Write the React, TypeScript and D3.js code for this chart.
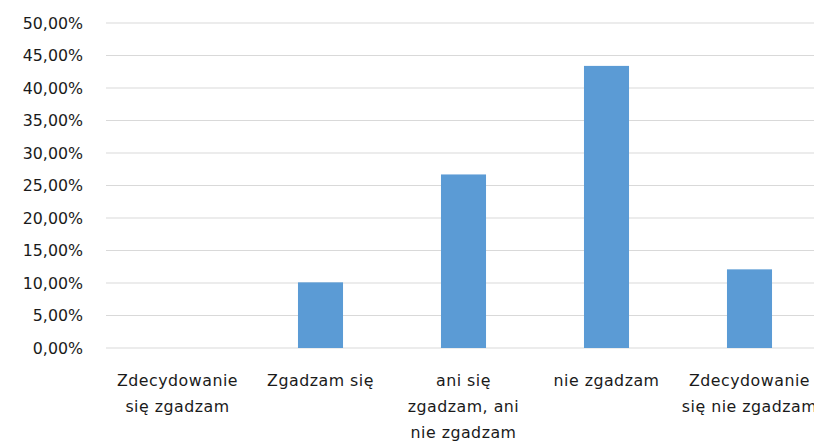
import React from "react";
import * as d3 from "d3";

const categories = [
  "Zdecydowanie się zgadzam",
  "Zgadzam się",
  "ani się zgadzam, ani nie zgadzam",
  "nie zgadzam",
  "Zdecydowanie się nie zgadzam",
];
const categoryLines = [
  ["Zdecydowanie", "się zgadzam"],
  ["Zgadzam się"],
  ["ani się", "zgadzam, ani", "nie zgadzam"],
  ["nie zgadzam"],
  ["Zdecydowanie", "się nie zgadzam"],
];
const values = [0, 0.101, 0.267, 0.434, 0.121];
const yTicks = [0, 0.05, 0.1, 0.15, 0.2, 0.25, 0.3, 0.35, 0.4, 0.45, 0.5];

const W = 814;
const H = 442;
const FONT = "'DejaVu Sans', sans-serif";

export default function App() {
  const x = d3
    .scaleBand<string>()
    .domain(categories)
    .range([106, 821])
    .paddingInner(0.685)
    .paddingOuter(0.3425);
  const y = d3.scaleLinear().domain([0, 0.5]).range([348, 23]);
  const fmt = (v: number) => (v * 100).toFixed(2).replace(".", ",") + "%";

  return (
    <svg
      width={W}
      height={H}
      style={{ position: "absolute", left: 0, top: 0, background: "#fff" }}
      fontFamily={FONT}
    >
      <rect x={0} y={0} width={W} height={H} fill="#fff" />
      {yTicks.map((t) => (
        <g key={t}>
          <line x1={106} x2={W} y1={y(t)} y2={y(t)} stroke="#d9d9d9" strokeWidth={1} />
          <text
            x={83}
            y={y(t)}
            dy="0.36em"
            textAnchor="end"
            fontSize={15.8}
            fill="#1a1a1a"
          >
            {fmt(t)}
          </text>
        </g>
      ))}
      {categories.map((c, i) => (
        <rect
          key={c}
          x={x(c)!}
          y={y(values[i])}
          width={x.bandwidth()}
          height={y(0) - y(values[i])}
          fill="#5b9bd5"
        />
      ))}
      {categories.map((c, i) => (
        <text
          key={"l" + c}
          x={x(c)! + x.bandwidth() / 2}
          textAnchor="middle"
          fontSize={15.8}
          fill="#1a1a1a"
          letterSpacing={0.5}
        >
          {categoryLines[i].map((ln, j) => (
            <tspan key={j} x={x(c)! + x.bandwidth() / 2} y={386 + j * 26}>
              {ln}
            </tspan>
          ))}
        </text>
      ))}
    </svg>
  );
}
